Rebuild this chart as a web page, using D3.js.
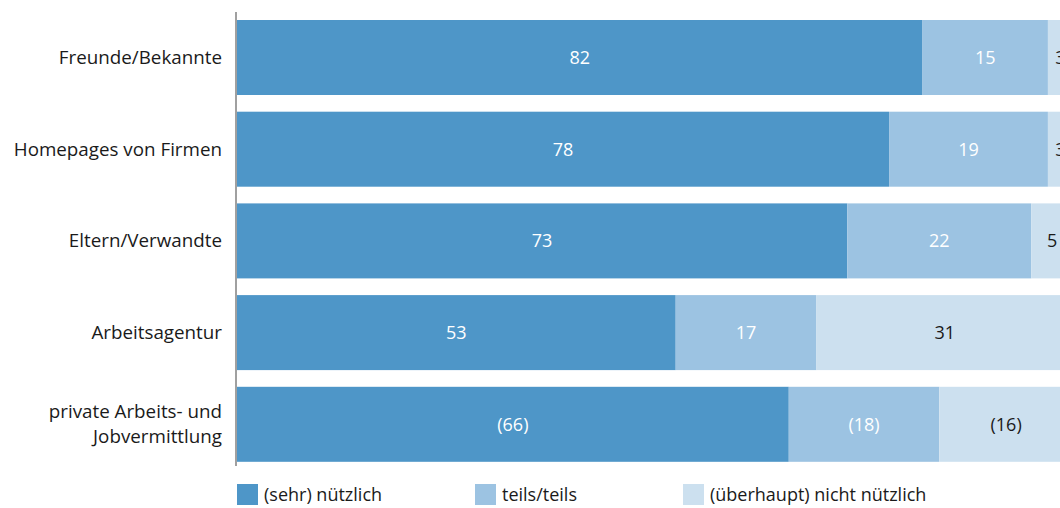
<!DOCTYPE html>
<html lang="de">
<head>
<meta charset="utf-8">
<script src="https://cdn.jsdelivr.net/npm/d3@7"></script>
<style>
  html, body { margin: 0; padding: 0; background: #fff; overflow: hidden; }
  svg { display: block; font-family: "Open Sans", "Noto Sans", sans-serif; }
</style>
</head>
<body>
<svg id="chart" width="1060" height="508"></svg>
<script>
// Categories (top to bottom)
const categories = [
  ["Freunde/Bekannte"],
  ["Homepages von Firmen"],
  ["Eltern/Verwandte"],
  ["Arbeitsagentur"],
  ["private Arbeits- und", "Jobvermittlung"]
];
// Shares in percent per answer
const useful    = [82, 78, 73, 53, 66];
const partly    = [15, 19, 22, 17, 18];
const notUseful = [3, 3, 5, 31, 16];
// Values shown in brackets (small sample)
const bracketed = [false, false, false, false, true];
const seriesNames = ["(sehr) nützlich", "teils/teils", "(überhaupt) nicht nützlich"];

const colors = ["#4e96c8", "#9cc3e2", "#cce0ef"];
const textColors = ["#ffffff", "#ffffff", "#1a1a1a"];

const svg = d3.select("#chart");
const x0 = 237, barTop = 20, step = 91.7, barH = 75;
const fs = 18, labelFs = 18.8;

const x = d3.scaleLinear().domain([0, 100]).range([x0, x0 + 836]);
const y = d3.scaleBand()
  .domain(d3.range(categories.length))
  .range([barTop, barTop + step * (categories.length - 1) + barH])
  .paddingInner((step - barH) / step)
  .paddingOuter(0);

const series = [useful, partly, notUseful];

categories.forEach((cat, i) => {
  const vals = series.map(s => s[i]);
  const total = d3.sum(vals);
  let acc = 0;
  vals.forEach((v, k) => {
    const start = acc / total * 100;
    const end = (acc + v) / total * 100;
    acc += v;
    svg.append("rect")
      .attr("x", x(start))
      .attr("y", y(i))
      .attr("width", x(end) - x(start))
      .attr("height", y.bandwidth())
      .attr("fill", colors[k]);
    svg.append("text")
      .attr("x", (x(start) + x(end)) / 2)
      .attr("y", y(i) + y.bandwidth() / 2)
      .attr("dy", "0.35em")
      .attr("text-anchor", "middle")
      .attr("font-size", fs)
      .attr("fill", textColors[k])
      .text(bracketed[i] ? `(${v})` : v);
  });

  // category label, right aligned
  const cy = y(i) + y.bandwidth() / 2;
  const lh = 25;
  const t = svg.append("text")
    .attr("text-anchor", "end")
    .attr("font-size", labelFs)
    .attr("fill", "#1a1a1a");
  cat.forEach((line, j) => {
    t.append("tspan")
      .attr("x", 222)
      .attr("y", cy + (j - (cat.length - 1) / 2) * lh)
      .attr("dy", "0.35em")
      .text(line);
  });
});

// vertical axis line
svg.append("line")
  .attr("x1", 236).attr("x2", 236)
  .attr("y1", 12).attr("y2", 466)
  .attr("stroke", "#808080")
  .attr("stroke-width", 1.5);

// legend
const legendX = [237, 475, 683];
seriesNames.forEach((name, k) => {
  svg.append("rect")
    .attr("x", legendX[k]).attr("y", 484)
    .attr("width", 21).attr("height", 21)
    .attr("fill", colors[k]);
  svg.append("text")
    .attr("x", legendX[k] + 27)
    .attr("y", 494.5)
    .attr("dy", "0.35em")
    .attr("font-size", fs)
    .attr("fill", "#1a1a1a")
    .text(name);
});
</script>
</body>
</html>
